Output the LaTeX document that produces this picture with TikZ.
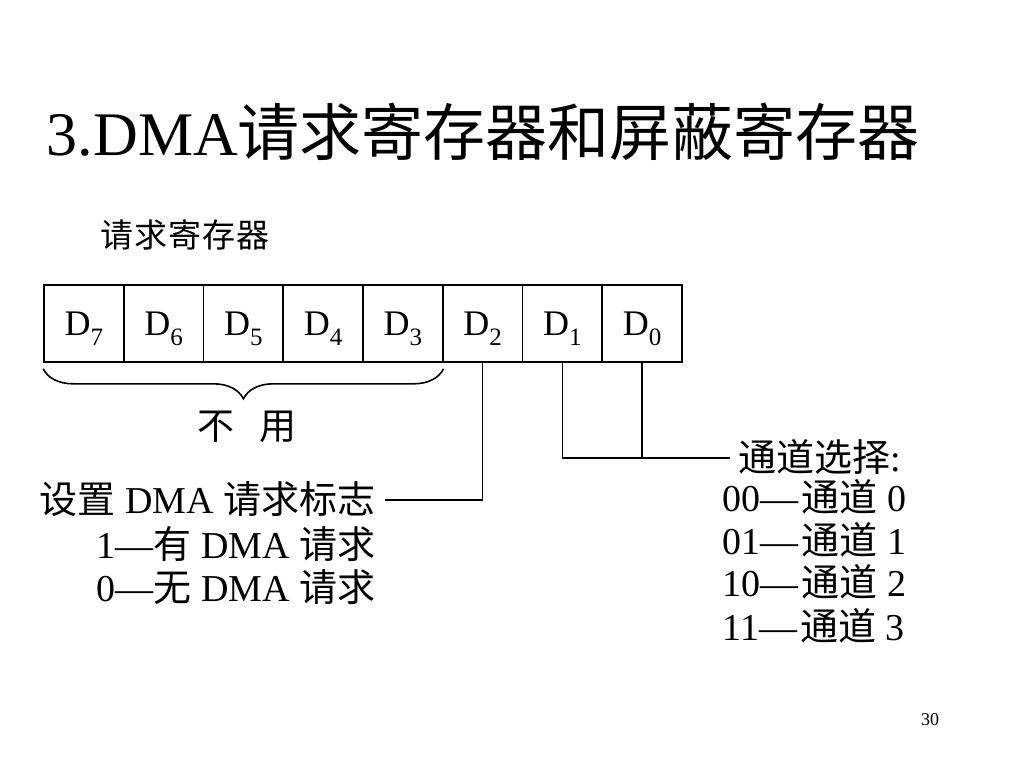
\documentclass[tikz,border=0pt]{standalone}
\usepackage{fontspec}
\setmainfont{Liberation Serif}
\newfontfamily\cjk{Noto Sans CJK SC}
\usetikzlibrary{decorations.pathreplacing}
\newcommand\myfs[1]{\fontsize{#1}{#1}\selectfont}
\newcommand\Dsub[1]{D\raisebox{-10pt}{\myfs{25}#1}}
\begin{document}
\begin{tikzpicture}[x=1pt,y=-1pt,
  line width=1.6pt,
  cell/.style={draw, minimum width=79.75pt, minimum height=77pt, inner sep=0pt,
    text height=24pt, text depth=0pt, font=\myfs{36}},
  txt/.style={inner sep=0pt, font=\myfs{38}},
  conn/.style={line width=1.6pt}]
\useasboundingbox (0,0) rectangle (1024,768);
\node[inner sep=0pt, anchor=base west, font=\myfs{62}] (title) at (46,155) {3.DMA{\cjk 请求寄存器和屏蔽寄存器}};
\node[inner sep=0pt, anchor=base west, font=\myfs{33}] (reg) at (100,247) {\cjk 请\hspace{1pt}求\hspace{1pt}寄\hspace{1pt}存\hspace{1pt}器};
\foreach \i/\n in {0/7,1/6,2/5,3/4,4/3,5/2,6/1,7/0}{
  \node[cell] (c\n) at ({44+(\i+0.5)*79.75},323.5) {\Dsub{\n}};
}
\draw[decorate, decoration={brace, amplitude=30pt}]
  ([yshift=-6pt]c3.south east) -- ([yshift=-6pt]c7.south west);
\node[txt, anchor=base, font=\myfs{37}] (unused) at (247,439) {\cjk 不\hspace{0.7em}用};
\node[txt, anchor=base east] (set) at (376,513) {{\cjk 设置} DMA {\cjk 请求标志}};
\node[txt, anchor=base east] (set1) at (376,558) {1—{\cjk 有} DMA {\cjk 请求}};
\node[txt, anchor=base east] (set0) at (376,601) {0—{\cjk 无} DMA {\cjk 请求}};
\node[txt, anchor=base west] (sel) at (738,471) {{\cjk 通道选择}:};
\node[txt, anchor=base west] (s0) at (722,511) {00—\hspace{3pt}{\cjk 通道} 0};
\node[txt, anchor=base west] (s1) at (722,554) {01—\hspace{3pt}{\cjk 通道} 1};
\node[txt, anchor=base west] (s2) at (722,596) {10—\hspace{3pt}{\cjk 通道} 2};
\node[txt, anchor=base west] (s3) at (722,640) {11—\hspace{3pt}{\cjk 通道} 3};
\node[inner sep=0pt, anchor=base, font=\myfs{18}] (pg) at (930,725) {30};
\coordinate (setend) at ([xshift=9pt]set.east |- 0,500);
\draw[conn] (setend) -| (c2.south);
\coordinate (selend) at ([xshift=-8pt]sel.west |- 0,458);
\draw[conn] (c1.south) |- (selend);
\draw[conn] (c0.south) -- (c0.south |- selend);
\end{tikzpicture}
\end{document}
